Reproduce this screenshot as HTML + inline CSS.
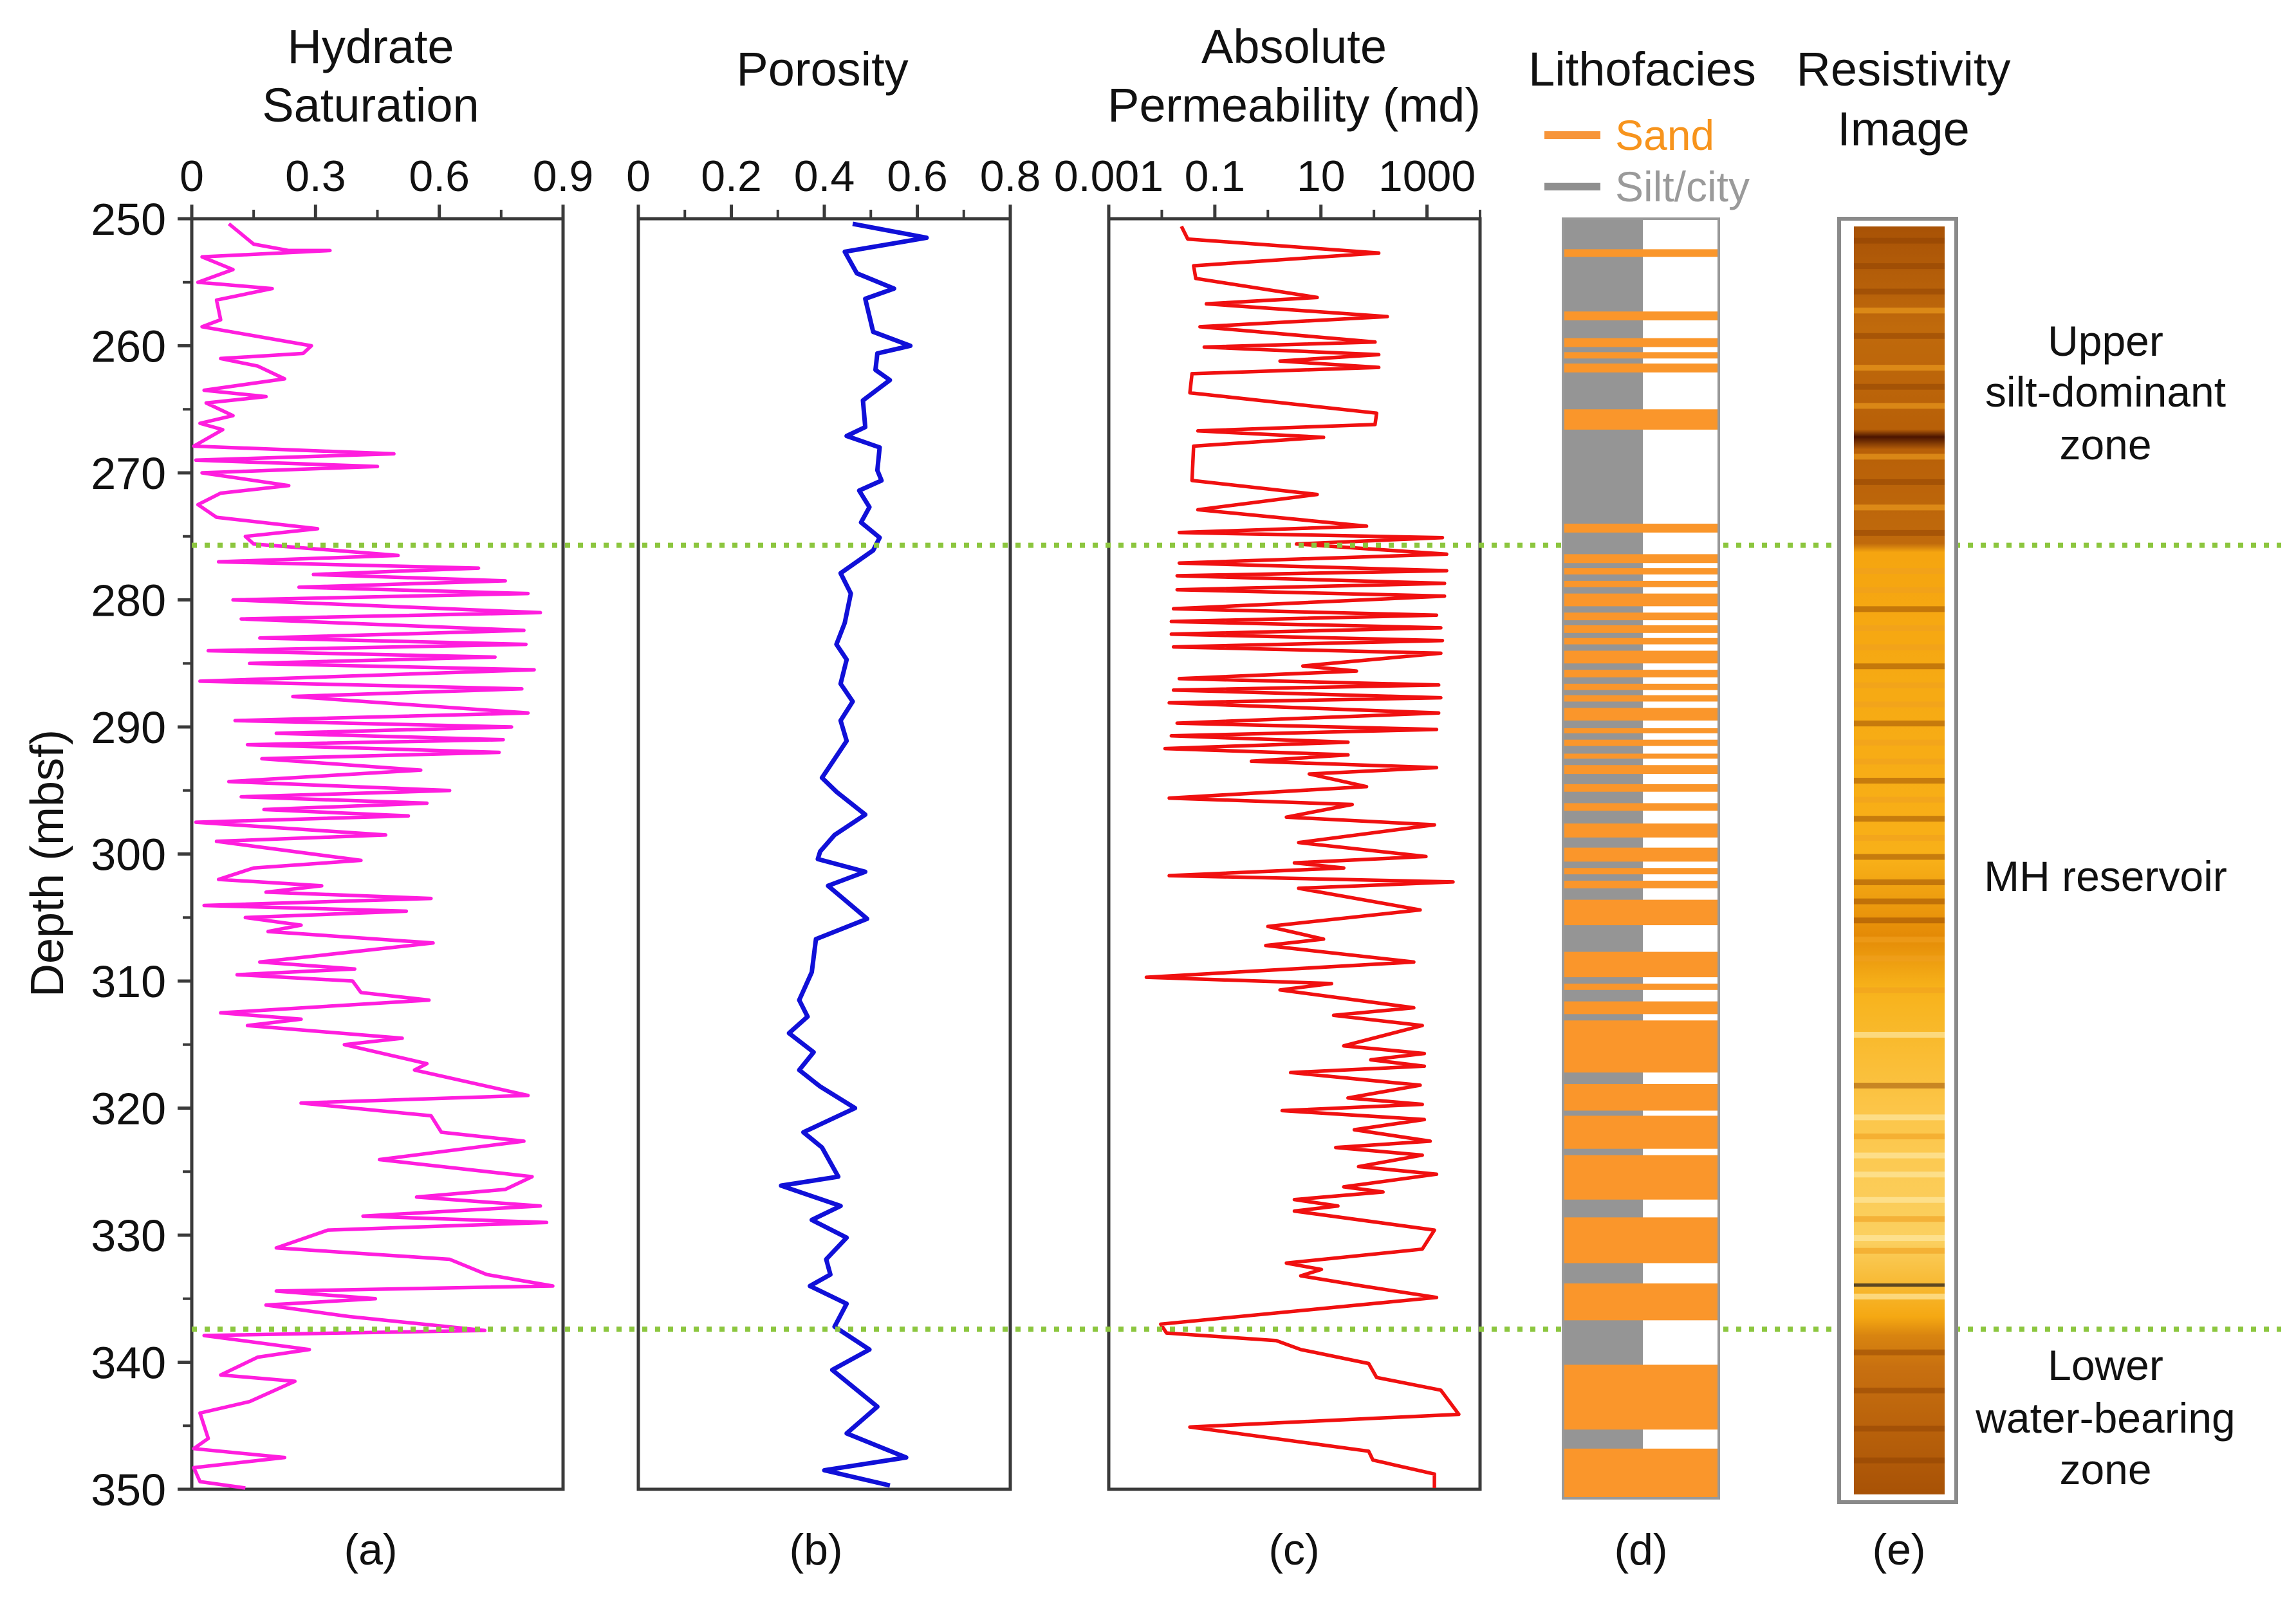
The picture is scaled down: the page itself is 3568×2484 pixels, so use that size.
<!DOCTYPE html>
<html><head><meta charset="utf-8">
<style>
html,body{margin:0;padding:0;background:#fff;}
svg{display:block;font-family:"Liberation Sans",Arial,sans-serif;}
</style></head>
<body>
<svg id="chart" width="3568" height="2484" viewBox="0 0 3568 2484" xmlns="http://www.w3.org/2000/svg">
<defs>
<linearGradient id="resGrad" x1="0" y1="0" x2="0" y2="1">
<stop offset="0" stop-color="#a85206"/>
<stop offset="0.08" stop-color="#c06a0c"/>
<stop offset="0.16" stop-color="#b86008"/>
<stop offset="0.166" stop-color="#4a1400"/>
<stop offset="0.176" stop-color="#b86008"/>
<stop offset="0.25" stop-color="#c06a0c"/>
<stop offset="0.257" stop-color="#f5a510"/>
<stop offset="0.5" stop-color="#f8b018"/>
<stop offset="0.56" stop-color="#e48a06"/>
<stop offset="0.6" stop-color="#f7b21a"/>
<stop offset="0.7" stop-color="#fcc64a"/>
<stop offset="0.8" stop-color="#fbd060"/>
<stop offset="0.86" stop-color="#f5a812"/>
<stop offset="0.875" stop-color="#d88410"/>
<stop offset="0.9" stop-color="#c87010"/>
<stop offset="1" stop-color="#a85206"/>
</linearGradient>
</defs>
</svg>
<script>
// ---------- DATA ----------
const depthTicks = [250,260,270,280,290,300,310,320,330,340,350];
const hsTicks = [0,0.3,0.6,0.9];
const hsTickLabels = ["0","0.3","0.6","0.9"];
const porTicks = [0,0.2,0.4,0.6,0.8];
const porTickLabels = ["0","0.2","0.4","0.6","0.8"];
const permTickExp = [-3,-1,1,3];
const permTickLabels = ["0.001","0.1","10","1000"];
const boundaryDepths = [275.7, 337.4];

const hsDepth = [250.4,252.0,252.5,252.5,253.0,254.0,255.0,255.5,256.4,257.95,258.5,260.0,260.6,261.0,261.6,262.6,263.5,264.0,264.5,265.5,266.1,266.6,267.9,268.5,269.0,269.5,270.0,271.0,271.6,272.5,273.5,274.4,275.0,275.6,276.5,277.0,277.5,278.0,278.5,279.0,279.5,280.0,281.0,281.5,282.4,283.0,283.5,284.0,284.5,285.0,285.5,286.4,287.0,287.6,288.9,289.5,290.0,290.5,291.0,291.4,292.0,292.5,293.4,294.3,295.0,295.5,296.0,296.5,297.0,297.5,298.5,299.0,300.5,301.1,302.0,302.5,303.0,303.5,304.05,304.5,305.0,305.6,306.1,307.0,308.5,309.05,309.5,310.0,310.9,311.5,312.5,313.0,313.5,314.5,315.0,316.5,317.0,319.0,319.6,320.6,321.9,322.6,324.05,325.4,326.4,327.0,327.7,328.5,329.0,329.6,331.0,331.9,333.1,334.0,334.4,335.0,335.5,336.4,337.5,337.9,339.0,339.6,341.0,341.5,343.1,344.0,346.0,346.8,347.5,348.3,349.4,349.9];
const hsValue = [0.09,0.15,0.235,0.335,0.025,0.10,0.015,0.195,0.06,0.07,0.025,0.29,0.27,0.07,0.16,0.225,0.03,0.18,0.035,0.10,0.02,0.075,0.005,0.49,0.01,0.45,0.025,0.235,0.07,0.015,0.06,0.305,0.13,0.15,0.50,0.065,0.695,0.295,0.76,0.26,0.815,0.10,0.845,0.12,0.805,0.165,0.81,0.04,0.735,0.14,0.83,0.02,0.80,0.245,0.815,0.105,0.775,0.205,0.755,0.135,0.745,0.17,0.555,0.09,0.625,0.12,0.57,0.175,0.525,0.01,0.47,0.06,0.41,0.15,0.065,0.315,0.18,0.58,0.03,0.52,0.13,0.265,0.185,0.585,0.165,0.395,0.11,0.39,0.41,0.575,0.07,0.265,0.135,0.51,0.37,0.57,0.54,0.815,0.265,0.58,0.605,0.805,0.455,0.825,0.76,0.545,0.845,0.415,0.86,0.33,0.205,0.625,0.715,0.875,0.205,0.445,0.18,0.38,0.71,0.03,0.285,0.16,0.07,0.25,0.14,0.02,0.04,0.005,0.225,0.005,0.02,0.13];

const porDepth = [250.4,251.5,252.6,254.3,255.5,256.3,258.9,260.0,260.6,261.9,262.7,264.3,266.4,267.1,268.0,269.8,270.6,271.4,272.7,273.9,275.1,276.1,277.9,279.5,281.8,283.5,284.7,286.6,288.0,289.5,291.1,294.0,295.1,296.9,298.5,299.8,300.4,301.4,302.5,305.1,306.7,309.3,311.5,312.8,314.1,315.6,317.0,318.3,320.0,321.9,323.1,325.4,326.1,327.7,328.8,330.2,331.9,333.1,334.0,335.4,337.2,339.0,340.6,343.5,345.6,347.5,348.5,349.7];
const porValue = [0.461,0.620,0.444,0.470,0.550,0.488,0.505,0.585,0.514,0.510,0.541,0.483,0.488,0.448,0.519,0.514,0.523,0.475,0.497,0.479,0.519,0.505,0.435,0.457,0.444,0.426,0.448,0.435,0.461,0.435,0.448,0.395,0.426,0.488,0.422,0.391,0.386,0.488,0.408,0.492,0.382,0.373,0.346,0.364,0.324,0.377,0.346,0.391,0.466,0.355,0.395,0.430,0.307,0.435,0.373,0.448,0.404,0.413,0.369,0.448,0.422,0.497,0.417,0.514,0.448,0.576,0.400,0.541];

const permDepth = [250.6,251.6,252.7,253.7,254.7,256.2,256.7,257.7,258.5,259.7,260.1,260.7,261.2,261.7,262.2,263.7,265.3,266.2,266.7,267.2,267.9,270.6,271.7,272.9,274.2,274.7,275.1,275.6,276.4,277.1,277.7,278.1,278.7,279.2,279.7,280.7,281.2,281.7,282.2,282.7,283.2,283.7,284.2,285.2,285.6,286.2,286.7,287.1,287.7,288.1,288.9,289.7,290.2,290.7,291.2,291.7,292.2,292.7,293.2,293.7,294.7,295.6,296.1,297.1,297.7,299.1,300.2,300.7,301.1,301.7,302.2,302.7,304.4,305.7,306.7,307.2,308.5,309.7,310.2,310.7,312.1,312.7,313.5,315.1,315.7,316.2,316.7,317.2,318.2,319.2,319.7,320.2,320.9,321.7,322.6,323.1,323.7,324.6,325.2,326.2,326.6,327.2,327.7,328.1,329.6,331.1,332.2,332.7,333.2,334.0,334.9,337.0,337.7,338.3,339.0,340.1,341.2,342.2,344.1,345.1,347.0,347.7,348.8,349.9];
const permLog10 = [-1.63,-1.51,2.09,-1.40,-1.36,0.93,-1.16,2.25,-1.28,2.02,-1.20,2.09,0.23,2.09,-1.43,-1.47,2.05,2.02,-1.32,1.05,-1.40,-1.43,0.93,-1.32,1.86,-1.67,3.29,0.54,3.37,-1.67,3.37,-1.71,3.33,-1.71,3.33,-1.78,3.18,-1.82,3.26,-1.82,3.29,-1.78,3.26,0.66,1.67,-1.67,3.22,-1.78,3.26,-1.86,3.22,-1.71,3.18,-1.82,1.51,-1.94,1.51,-0.31,3.18,0.78,1.86,-1.86,1.59,0.35,3.14,0.58,2.98,0.50,1.43,-1.86,3.49,0.58,2.87,0.0,1.05,-0.04,2.75,-2.29,1.2,0.23,2.75,1.24,2.91,1.43,2.95,1.94,2.95,0.43,2.87,1.51,2.91,0.27,2.95,1.63,3.06,1.28,2.91,1.71,3.18,1.43,2.17,0.50,1.32,0.50,3.14,2.91,0.35,1.01,0.62,1.78,3.18,-2.02,-1.91,0.16,0.62,1.90,2.05,3.26,3.60,-1.47,1.90,1.98,3.14,3.14];

const sandTop = [252.4,257.3,259.4,260.5,261.4,265.0,274.0,276.4,277.5,278.5,279.5,281.0,282.0,283.0,284.0,285.5,286.6,287.5,288.5,290.1,291.0,292.1,293.0,294.5,296.0,297.6,299.5,301.1,302.1,303.6,307.7,310.2,311.6,313.1,318.1,320.6,323.7,328.6,333.8,340.2,346.8];
const sandBottom = [253.0,258.0,260.1,261.0,262.1,266.6,274.7,277.1,278.0,279.0,280.5,281.6,282.6,283.5,285.0,286.1,287.1,288.0,289.5,290.5,291.5,292.5,293.7,295.1,296.6,298.7,300.6,301.6,302.7,305.6,309.7,310.7,312.6,317.2,320.2,323.2,327.2,332.2,336.7,345.3,350.0];

const resBandDepth = [251.5,253.5,255.5,257.0,259.0,261.5,263.0,264.5,268.5,270.5,272.5,274.5,277.5,279.0,280.5,282.0,283.5,285.0,286.5,288.0,289.5,291.0,292.5,294.0,295.5,297.0,298.5,300.0,302.0,303.5,305.0,306.5,308.0,310.5,314.0,318.0,320.5,322.0,323.5,325.0,327.0,328.5,330.0,331.0,333.8,334.6,339.0,342.0,345.0,347.5];
const resBandTone = ["d","d","d","l","d","l","d","l","l","d","l","d","l","l","d","l","l","d","l","l","d","l","l","d","l","d","l","d","d","d","d","l","l","l","w","d","w","l","w","w","w","l","w","l","k","w","d","d","d","d"];

// ---------- LAYOUT ----------
const svg = document.getElementById('chart');
const NS = 'http://www.w3.org/2000/svg';
const TOP = 340, BOT = 2315;
const D0 = 250, D1 = 350;
function yD(d){ return TOP + (d - D0) / (D1 - D0) * (BOT - TOP); }
const A = {x0:298, x1:875, v0:0, v1:0.9};
const B = {x0:992, x1:1570, v0:0, v1:0.8};
const C = {x0:1723, x1:2300, v0:-3, v1:4};
function xA(v){ return A.x0 + (v - A.v0)/(A.v1 - A.v0)*(A.x1 - A.x0); }
function xB(v){ return B.x0 + (v - B.v0)/(B.v1 - B.v0)*(B.x1 - B.x0); }
function xC(e){ return C.x0 + (e - C.v0)/(C.v1 - C.v0)*(C.x1 - C.x0); }

function mk(tag, attrs, parent){
  const el = document.createElementNS(NS, tag);
  for (const k in attrs) el.setAttribute(k, attrs[k]);
  (parent || svg).appendChild(el);
  return el;
}
function txt(s, x, y, size, anchor, fill, parent){
  const t = mk('text', {x:x, y:y, 'font-size':size, 'text-anchor':anchor||'middle', fill:fill||'#111'}, parent);
  t.textContent = s;
  return t;
}

// ---------- TITLES ----------
let t;
t = txt('Hydrate', 576, 98, 74);  
t = txt('Saturation', 576, 189, 74);  
t = txt('Porosity', 1278, 133, 74);  
t = txt('Absolute', 2011, 98, 74);  
t = txt('Permeability (md)', 2011, 189, 74);  
t = txt('Lithofacies', 2552, 133, 74);  
t = txt('Resistivity', 2958, 133, 74);  
t = txt('Image', 2958, 226, 74);  

let lg = mk('g', {});


let l1 = mk('line', {x1:2400, x2:2487, y1:210, y2:210, stroke:'#f7953a', 'stroke-width':12}, lg);
 
t = txt('Sand', 2510, 233, 66, 'start', '#f7941d', lg);  
let l2 = mk('line', {x1:2400, x2:2487, y1:290, y2:290, stroke:'#8f8f8f', 'stroke-width':12}, lg);
 
t = txt('Silt/city', 2510, 313, 66, 'start', '#9a9a9a', lg);  

// ---------- AXES ----------
function panelFrame(P, name){
  const g = mk('g', {});
  
  
  const r = mk('rect', {x:P.x0, y:TOP, width:P.x1-P.x0, height:BOT-TOP, fill:'none', stroke:'#3a3a3a', 'stroke-width':5}, g);
  
  
  return g;
}
const gA = panelFrame(A, 'panel-a-hydrate');
const gB = panelFrame(B, 'panel-b-porosity');
const gC = panelFrame(C, 'panel-c-permeability');

function topTicks(g, positions, labels, scale, minorPositions, name){
  positions.forEach((v,i)=>{
    const x = scale(v);
    const tk = mk('line', {x1:x, x2:x, y1:TOP, y2:TOP-22, stroke:'#3a3a3a', 'stroke-width':5}, g);
    
    
    const lb = txt(labels[i], x, 297, 68, 'middle', '#111', g);
    
    
  });
  minorPositions.forEach(v=>{
    const x = scale(v);
    const tk = mk('line', {x1:x, x2:x, y1:TOP, y2:TOP-14, stroke:'#3a3a3a', 'stroke-width':4}, g);
    
    
  });
}
topTicks(gA, hsTicks, hsTickLabels, xA, [0.15,0.45,0.75], 'hydrate-x-axis');
topTicks(gB, porTicks, porTickLabels, xB, [0.1,0.3,0.5,0.7], 'porosity-x-axis');
topTicks(gC, permTickExp, permTickLabels, xC, [-2,0,2,4], 'permeability-x-axis');

const gY = mk('g', {});


depthTicks.forEach(d=>{
  const y = yD(d);
  const tk = mk('line', {x1:A.x0, x2:A.x0-22, y1:y, y2:y, stroke:'#3a3a3a', 'stroke-width':5}, gY);
  
  
  const lb = txt(String(d), 258, y+25, 70, 'end', '#111', gY);
  
  
  if (d < 350){
    const ym = yD(d+5);
    const mt = mk('line', {x1:A.x0, x2:A.x0-14, y1:ym, y2:ym, stroke:'#3a3a3a', 'stroke-width':4}, gY);
    
    
  }
});
const yt = txt('Depth (mbsf)', 0, 0, 72, 'middle', '#111', gY);
yt.setAttribute('transform','translate(98,1342) rotate(-90)');



// ---------- SERIES ----------
function pathFrom(depths, vals, xs){
  return depths.map((d,i)=>(i?'L':'M') + xs(vals[i]).toFixed(1) + ' ' + yD(d).toFixed(1)).join(' ');
}
const pA = mk('path', {d:pathFrom(hsDepth, hsValue, xA), fill:'none', stroke:'#ff1dde', 'stroke-width':5.5, 'stroke-linejoin':'round'}, gA);


const pB = mk('path', {d:pathFrom(porDepth, porValue, xB), fill:'none', stroke:'#1010d8', 'stroke-width':7, 'stroke-linejoin':'round'}, gB);


const pC = mk('path', {d:pathFrom(permDepth, permLog10, xC), fill:'none', stroke:'#f01010', 'stroke-width':5.5, 'stroke-linejoin':'round'}, gC);



// ---------- BOUNDARY LINES ----------
boundaryDepths.forEach((d,i)=>{
  const y = yD(d);
  const ln = mk('line', {x1:298, x2:3545, y1:y, y2:y, stroke:'#8cc63f', 'stroke-width':8, 'stroke-dasharray':'8 12'});
  
  
});

// ---------- LITHOFACIES ----------
const gD = mk('g', {});


const LX0 = 2429, LXM = 2553, LX1 = 2671;
const bgL = mk('rect', {x:LX0, y:TOP, width:LXM-LX0, height:BOT+14-TOP, fill:'#959595'}, gD);
 
const bgR = mk('rect', {x:LXM, y:TOP, width:LX1-LXM, height:BOT+14-TOP, fill:'#ffffff'}, gD);
 
sandTop.forEach((d,i)=>{
  const y0 = yD(d), y1 = yD(sandBottom[i]);
  const r = mk('rect', {x:LX0, y:y0, width:LX1-LX0, height:Math.max(2,(i===sandTop.length-1? y1+14 : y1)-y0), fill:'#fa962b'}, gD);
  
  
});
const frD = mk('rect', {x:LX0, y:TOP, width:LX1-LX0, height:BOT+14-TOP, fill:'none', stroke:'#999', 'stroke-width':4}, gD);
 

// ---------- RESISTIVITY IMAGE ----------
const gE = mk('g', {});


const EX0 = 2858, EX1 = 3040, IX0 = 2881, IX1 = 3022;
const bgE = mk('rect', {x:EX0, y:TOP, width:EX1-EX0, height:BOT+20-TOP, fill:'#fff', stroke:'#8a8a8a', 'stroke-width':6}, gE);
 
const img = mk('rect', {x:IX0, y:TOP+12, width:IX1-IX0, height:BOT+8-TOP-12, fill:'url(#resGrad)'}, gE);
 
const toneColor = {d:'#8a3f02', l:'#f0a020', w:'#fde7a0', k:'#4a3a20'};
const toneOp = {d:0.45, l:0.6, w:0.7, k:0.9};
resBandDepth.forEach((d,i)=>{
  const tone = resBandTone[i];
  const b = mk('rect', {x:IX0, y:yD(d), width:IX1-IX0, height: tone==='k'?5:9, fill:toneColor[tone], opacity:toneOp[tone]}, gE);
  
  
});

// ---------- PANEL LABELS ----------
[['(a)',576],['(b)',1268],['(c)',2011],['(d)',2550],['(e)',2951]].forEach(p=>{
  const l = txt(p[0], p[1], 2432, 68);
  
  
});

// ---------- ZONE ANNOTATIONS ----------
[['Upper',3272,553,'zone-upper-line1'],['silt-dominant',3272,632,'zone-upper-line2'],['zone',3272,714,'zone-upper-line3'],
 ['MH reservoir',3272,1385,'zone-mh-reservoir'],
 ['Lower',3272,2145,'zone-lower-line1'],['water-bearing',3272,2227,'zone-lower-line2'],['zone',3272,2307,'zone-lower-line3']].forEach(a=>{
  const l = txt(a[0], a[1], a[2], 66);
  
  
});
</script>
</body></html>
